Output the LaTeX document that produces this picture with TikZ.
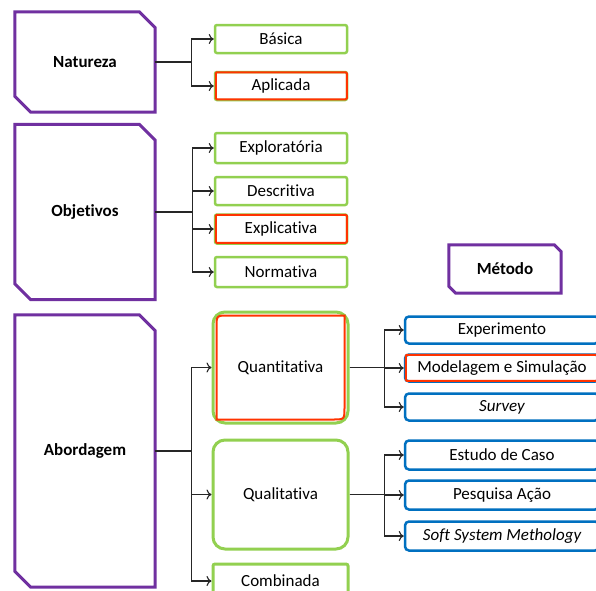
\documentclass[tikz,border=0pt]{standalone}
\usepackage{fontspec}
\setmainfont{Carlito}[RawFeature={-liga}]
\usetikzlibrary{arrows.meta,calc}

\definecolor{roxo}{HTML}{7030A0}
\definecolor{verde}{HTML}{92D050}
\definecolor{azul}{HTML}{0070C0}
\definecolor{vermelho}{HTML}{FF3300}

% chamfered purple outline around a named node (#2 = size of the cut)
\newcommand\snipframe[2]{%
  \draw[frame] (#1.north west) -- ([xshift=-#2]#1.north east)
    -- ([yshift=-#2]#1.north east) -- (#1.south east)
    -- ([xshift=#2]#1.south west) -- ([yshift=#2]#1.south west) -- cycle;}

% red highlight inside a small box
\newcommand\selbox[1]{%
  \draw[sel, rounded corners=1pt] ([xshift=2pt,yshift=-1.5pt]#1.north west)
    rectangle ([xshift=-1.5pt,yshift=2pt]#1.south east);}

\tikzset{
  base/.style={font=\fontsize{17}{20}\selectfont, inner sep=0pt, anchor=center},
  cat/.style={base, font=\fontsize{17}{20}\selectfont\bfseries},
  opt/.style={base, draw=verde, line width=2.5pt, rounded corners=2pt, fill=white,
              minimum width=132pt},
  big/.style={base, draw=verde, line width=3pt, rounded corners=12pt, fill=white,
              minimum width=135pt},
  tec/.style={base, draw=azul, line width=2.5pt, rounded corners=4pt, fill=white,
              minimum width=194pt, minimum height=27pt},
  sel/.style={draw=vermelho, line width=2pt},
  frame/.style={draw=roxo, line width=3pt, line join=miter},
  link/.style={draw=black!85, line width=1.1pt},
  arr/.style={link, -{To[length=5pt,width=10pt]}},
}

\begin{document}
\begin{tikzpicture}[x=1pt,y=-1pt]
\useasboundingbox (0,0) rectangle (596,590);
\clip (0,0) rectangle (596,590);
\fill[white] (0,0) rectangle (596,590);

% categories
\node[cat, minimum width=140pt, minimum height=100pt] (nat) at (85,62) {Natureza};
\node[cat, minimum width=140pt, minimum height=175pt] (obj) at (85,212) {Objetivos};
\node[cat, minimum width=140pt, minimum height=272pt] (abo) at (85,451) {Abordagem};
\node[cat, minimum width=112pt, minimum height=48pt] (met) at (505,269) {Método};
\snipframe{nat}{16pt}
\snipframe{obj}{16pt}
\snipframe{abo}{16pt}
\snipframe{met}{7pt}

% Natureza
\node[opt, minimum height=28pt] (bas) at (281,39) {Básica};
\node[opt, minimum height=28pt] (apl) at (281,86) {Aplicada};
\selbox{apl}

% Objetivos
\node[opt, minimum height=30pt] (exl) at (281,148) {Exploratória};
\node[opt, minimum height=28pt] (des) at (281,191) {Descritiva};
\node[opt, minimum height=29pt] (epc) at (281,229) {Explicativa};
\node[opt, minimum height=30pt] (nor) at (281,272) {Normativa};
\selbox{epc}

% Abordagem
\node[big, minimum height=111pt] (qt) at (280.5,367.5) {Quantitativa};
\node[big, minimum height=109pt] (ql) at (280.5,494.5) {Qualitativa};
\node[opt, line width=3pt, minimum width=135pt, minimum height=34pt] (com) at (280.5,581) {Combinada};
% red outline inside Quantitativa: rounded top-left and bottom-right corners
\draw[sel] ([xshift=5pt,yshift=-17pt]qt.north west)
  .. controls ([xshift=5pt,yshift=-5pt]qt.north west) .. ([xshift=17pt,yshift=-5pt]qt.north west)
  -- ([xshift=-5pt,yshift=-5pt]qt.north east)
  -- ([xshift=-5pt,yshift=17pt]qt.south east)
  .. controls ([xshift=-5pt,yshift=5pt]qt.south east) .. ([xshift=-17pt,yshift=5pt]qt.south east)
  -- ([xshift=5pt,yshift=5pt]qt.south west) -- cycle;

% Método
\node[tec] (ex) at (502,330) {Experimento};
\node[tec] (mo) at (502,368) {Modelagem e Simulação};
\node[tec] (su) at (502,407) {\itshape Survey};
\node[tec, minimum height=29pt] (ec) at (502,455) {Estudo de Caso};
\node[tec, minimum height=29pt] (pa) at (502,495) {Pesquisa Ação};
\node[tec, minimum height=29pt] (ss) at (502,536) {\itshape Soft System Methology};
\selbox{mo}

% connectors
\draw[arr] (nat.east) -- ++(36,0) |- (bas.west);
\draw[arr] (nat.east) -- ++(36,0) |- (apl.west);
\foreach \t in {exl,des,epc,nor}
  \draw[arr] (obj.east) -- ++(37,0) |- (\t.west);
\foreach \t in {qt,ql,com}
  \draw[arr] (abo.east) -- ++(36,0) |- (\t.west);
\foreach \t in {ex,mo,su}
  \draw[arr] (qt.east) -- ++(35,0) |- (\t.west);
\foreach \t in {ec,pa,ss}
  \draw[arr] (ql.east) -- ++(35,0) |- (\t.west);
\end{tikzpicture}
\end{document}
